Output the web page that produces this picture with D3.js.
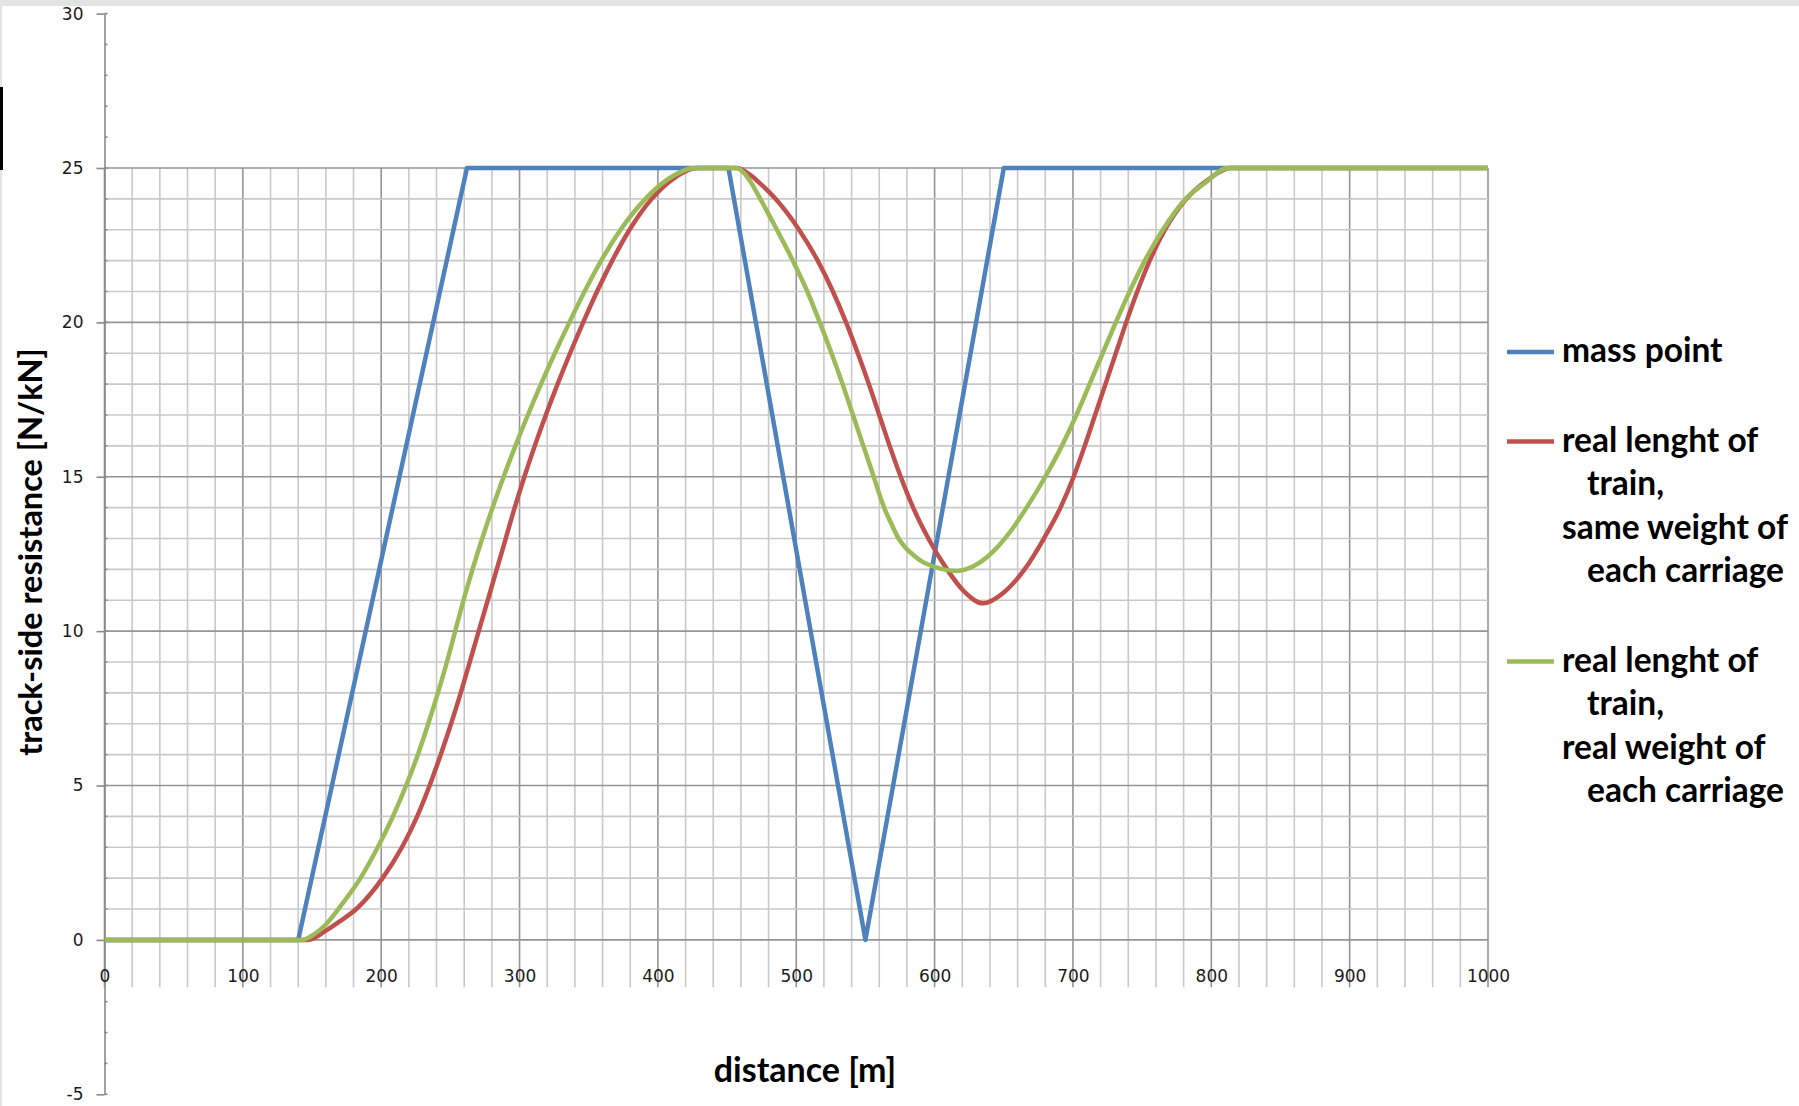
<!DOCTYPE html>
<html>
<head>
<meta charset="utf-8">
<script src="https://cdn.jsdelivr.net/npm/d3@7"></script>
<style>
  body { margin: 0; background: #fff; }
  svg { display: block; }
</style>
</head>
<body>
<div id="chart"></div>
<script>
// mass point
const massDist = [0, 140, 262, 451, 550, 650, 1000]
const massRes = [0, 0, 25, 25, 0, 25, 25]

// real lenght of train, same weight of each carriage
const sameDist = [0, 147, 160, 170, 182, 201, 215, 226, 235, 243, 250.5, 257.5, 264, 270.5, 277, 283.5, 290, 296.5, 303.5,
    311, 319, 327.5, 336.5, 346, 356, 367, 379.5, 395.5, 409.5, 428.5, 457, 466, 475, 485, 502, 515.5, 526.5, 536, 544.5,
    552.5, 560, 567.5, 575.5, 584.5, 595.5, 609, 621, 635, 650, 665, 679, 691, 700.5, 708.5, 716, 723.5, 731, 738.5,
    746.5, 755.5, 766.5, 782, 797, 814, 1000]
const sameRes = [0, 0, 0.3, 0.6, 1, 2, 3, 4, 5, 6, 7, 8, 9, 10, 11, 12, 13, 14, 15,
    16, 17, 18, 19, 20, 21, 22, 23, 24, 24.6, 25, 25, 24.8, 24.45, 24, 23, 22, 21, 20, 19,
    18, 17, 16, 15, 14, 13, 12, 11.3, 10.9, 11.25, 12, 13, 14, 15, 16, 17, 18, 19, 20,
    21, 22, 23, 24, 24.6, 25, 25]

// real lenght of train, real weight of each carriage
const realDist = [0, 143, 152, 160, 169, 185, 197.5, 208.5, 218, 226.5, 234, 241, 247.5, 253.5, 259.5, 266, 273, 280.5,
    288.5, 297, 306, 315.5, 325.5, 336, 347, 359, 373, 391, 406, 427, 456, 462, 467, 474, 486, 497.5, 508, 517, 525.5,
    533.5, 541, 548.5, 556, 563.5, 568.5, 574, 579, 585, 591, 600, 616, 628, 638, 647, 656, 666.5, 680, 692, 702.5,
    712, 721.5, 731, 741, 752, 765, 781.5, 795, 812, 1000]
const realRes = [0, 0, 0.2, 0.5, 1, 2, 3, 4, 5, 6, 7, 8, 9, 10, 11, 12, 13, 14,
    15, 16, 17, 18, 19, 20, 21, 22, 23, 24, 24.6, 25, 25, 24.85, 24.55, 24, 23, 22, 21, 20, 19,
    18, 17, 16, 15, 14, 13.5, 13, 12.7, 12.45, 12.25, 12.08, 11.95, 12.1, 12.4, 12.8, 13.3, 14, 15, 16, 17,
    18, 19, 20, 21, 22, 23, 24, 24.5, 25, 25]

const xTicks = [0, 100, 200, 300, 400, 500, 600, 700, 800, 900, 1000]
const yTicks = [-5, 0, 5, 10, 15, 20, 25, 30]

const seriesNames = [
    ['mass point'],
    ['real lenght of', 'train,', 'same weight of', 'each carriage'],
    ['real lenght of', 'train,', 'real weight of', 'each carriage'],
]
const seriesColors = ['#4f81bd', '#c0504d', '#9bbb59']

const xTitle = 'distance [m]'
const yTitle = 'track-side resistance [N/kN]'

function draw(el) {

    let dimensions = {
        width: 1799,
        height: 1106,
    }

    const svg = d3.select(el)
        .append('svg')
        .attr('width', dimensions.width)
        .attr('height', dimensions.height)

    // edge of the screenshot
    svg.append('rect').attr('width', dimensions.width).attr('height', 6).attr('fill', '#e1e6e5')
    svg.append('rect').attr('width', 2).attr('height', dimensions.height).attr('fill', '#e1e6e5')
    svg.append('rect').attr('y', 87).attr('width', 3).attr('height', 83).attr('fill', '#000')

    const x = d3.scaleLinear().domain([0, 1000]).range([104.5, 1488])
    const y = d3.scaleLinear().domain([-5, 30]).range([1094.3, 13.6])

    const minor = '#c9c9c9'
    const major = '#959595'

    // vertical grid, every 20 m, running a bit under the zero line
    const vLines = d3.range(0, 1001, 20).sort((a, b) => (a % 100 === 0) - (b % 100 === 0))
    svg.append('g')
        .selectAll('line')
        .data(vLines)
        .join('line')
        .attr('x1', d => x(d))
        .attr('x2', d => x(d))
        .attr('y1', y(25))
        .attr('y2', y(-1.53))
        .attr('stroke', d => d % 100 === 0 ? major : minor)
        .attr('stroke-width', 1.6)

    // horizontal grid, every 1 N/kN from 0 to 25
    const hLines = d3.range(0, 26).sort((a, b) => (a % 5 === 0) - (b % 5 === 0))
    svg.append('g')
        .selectAll('line')
        .data(hLines)
        .join('line')
        .attr('x1', x(0))
        .attr('x2', x(1000))
        .attr('y1', d => y(d))
        .attr('y2', d => y(d))
        .attr('stroke', d => d % 5 === 0 ? major : minor)
        .attr('stroke-width', 1.6)

    // y axis: minor ticks inside, major ticks outside
    svg.append('g')
        .attr('stroke', '#8a8a8a')
        .attr('stroke-width', 1.6)
        .selectAll('line')
        .data(d3.range(-5, 31))
        .join('line')
        .attr('x1', x(0))
        .attr('x2', x(0) + 3)
        .attr('y1', d => y(d))
        .attr('y2', d => y(d))

    const yAxis = svg.append('g')
        .attr('transform', `translate(${x(0)},0)`)
        .call(d3.axisLeft(y).tickValues(yTicks).tickFormat(d => String(d))
            .tickSize(8).tickSizeOuter(0).tickPadding(13))
    yAxis.select('.domain').attr('stroke', '#8a8a8a').attr('stroke-width', 1.6)
    yAxis.selectAll('.tick line').attr('stroke', '#8a8a8a').attr('stroke-width', 1.6)
    yAxis.selectAll('text')
        .attr('font-family', 'DejaVu Sans, Verdana, sans-serif')
        .attr('font-size', 17)
        .attr('fill', '#1b1b1b')

    const xAxis = svg.append('g')
        .attr('transform', `translate(0,${y(-0.98)})`)
        .call(d3.axisBottom(x).tickValues(xTicks).tickFormat(d => String(d)).tickSize(0).tickPadding(0))
    xAxis.select('.domain').remove()
    xAxis.selectAll('text')
        .attr('font-family', 'DejaVu Sans, Verdana, sans-serif')
        .attr('font-size', 17)
        .attr('fill', '#1b1b1b')

    // series
    const series = [
        { pts: d3.zip(massDist, massRes), curve: d3.curveLinear },
        { pts: d3.zip(sameDist, sameRes), curve: d3.curveMonotoneX },
        { pts: d3.zip(realDist, realRes), curve: d3.curveMonotoneX },
    ]

    svg.append('g')
        .attr('fill', 'none')
        .attr('stroke-width', 4.5)
        .attr('stroke-linejoin', 'round')
        .selectAll('path')
        .data(series)
        .join('path')
        .attr('stroke', (d, i) => seriesColors[i])
        .attr('d', d => d3.line().x(p => x(p[0])).y(p => y(p[1])).curve(d.curve)(d.pts))

    // legend
    const lineH = 43.5
    const legend = svg.append('g')
        .attr('font-family', 'Lato, Calibri, sans-serif')
        .attr('font-weight', 700)
        .attr('font-size', 33.5)
        .attr('fill', '#000')

    let cy = 352
    seriesNames.forEach((lines, i) => {
        legend.append('line')
            .attr('x1', 1507).attr('x2', 1554)
            .attr('y1', cy).attr('y2', cy)
            .attr('stroke', seriesColors[i])
            .attr('stroke-width', 4.5)
        legend.selectAll(null)
            .data(lines)
            .join('text')
            .attr('x', (d, j) => j % 2 === 1 ? 1587 : 1562)
            .attr('y', (d, j) => cy + 10 + j * lineH)
            .text(d => d)
        cy += lines.length * lineH + 46
    })

    // axis titles
    svg.append('text')
        .attr('x', 805)
        .attr('y', 1082)
        .attr('text-anchor', 'middle')
        .attr('font-family', 'Lato, Calibri, sans-serif')
        .attr('font-weight', 700)
        .attr('font-size', 34)
        .text(xTitle)

    svg.append('text')
        .attr('transform', 'translate(42,552) rotate(-90)')
        .attr('text-anchor', 'middle')
        .attr('font-family', 'Lato, Calibri, sans-serif')
        .attr('font-weight', 700)
        .attr('font-size', 32.5)
        .text(yTitle)
}

draw('#chart')
</script>
</body>
</html>
